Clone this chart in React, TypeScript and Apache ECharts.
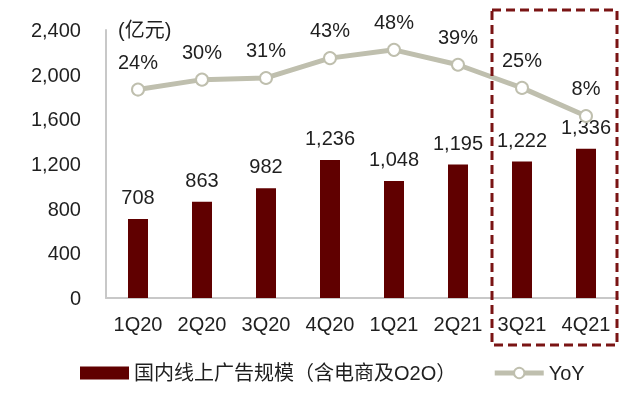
import React, { useEffect, useRef } from "react";
import * as echarts from "echarts";

const categories = ["1Q20", "2Q20", "3Q20", "4Q20", "1Q21", "2Q21", "3Q21", "4Q21"];
const adRevenue = [708, 863, 982, 1236, 1048, 1195, 1222, 1336];
const yoy = [24, 30, 31, 43, 48, 39, 25, 8];
const yTicks = [0, 400, 800, 1200, 1600, 2000, 2400];
const barName = "国内线上广告规模（含电商及O2O）";
const lineName = "YoY";
const unitLabel = "(亿元)";

const FONT = "'Liberation Sans', Arial, 'Noto Sans CJK SC', sans-serif";
const BAR_COLOR = "#600000";
const LINE_COLOR = "#BFBFAE";
const TEXT_COLOR = "#1f1f1f";
const FS = 20;

export default function App() {
  const ref = useRef<HTMLDivElement>(null);
  useEffect(() => {
    if (!ref.current) return;
    const chart = echarts.init(ref.current, undefined, { renderer: "svg" });
    chart.setOption({
      animation: false,
      textStyle: { fontFamily: FONT },
      grid: { left: 106, right: 22, top: 30, bottom: 99, containLabel: false },
      xAxis: {
        type: "category",
        data: categories,
        axisLine: { lineStyle: { color: "#C8C8C8", width: 2 } },
        axisTick: { show: false },
        axisLabel: { color: TEXT_COLOR, fontSize: FS, margin: 16, fontFamily: FONT },
      },
      yAxis: [
        {
          type: "value",
          min: yTicks[0],
          max: yTicks[yTicks.length - 1],
          interval: 400,
          axisLine: { show: true, lineStyle: { color: "#C8C8C8", width: 2 } },
          axisTick: { show: false },
          splitLine: { show: false },
          axisLabel: {
            color: TEXT_COLOR,
            fontSize: FS,
            margin: 25,
            fontFamily: FONT,
            formatter: (v: number) => v.toLocaleString("en-US"),
          },
        },
        {
          type: "value",
          min: -102,
          max: 60,
          show: false,
          splitLine: { show: false },
        },
      ],
      legend: {
        left: 75,
        top: 358,
        itemWidth: 49,
        itemHeight: 13,
        itemGap: 36,
        textStyle: { color: TEXT_COLOR, fontSize: FS, fontFamily: FONT },
        data: [
          { name: barName, icon: "rect" },
          { name: lineName, lineStyle: { width: 5 } },
        ],
      },
      series: [
        {
          name: barName,
          type: "bar",
          data: adRevenue,
          barWidth: 20,
          itemStyle: { color: BAR_COLOR },
          label: {
            show: true,
            position: "top",
            distance: 12,
            color: TEXT_COLOR,
            fontSize: FS,
            fontFamily: FONT,
            formatter: (p: any) => Number(p.value).toLocaleString("en-US"),
          },
        },
        {
          name: lineName,
          type: "line",
          yAxisIndex: 1,
          data: yoy,
          symbol: "emptyCircle",
          symbolSize: 12,
          lineStyle: { color: LINE_COLOR, width: 5 },
          itemStyle: { color: LINE_COLOR, borderWidth: 2, borderColor: LINE_COLOR },
          label: {
            show: true,
            position: "top",
            distance: 11,
            color: TEXT_COLOR,
            fontSize: FS,
            fontFamily: FONT,
            formatter: "{c}%",
          },
          z: 3,
        },
      ],
      graphic: [
        {
          type: "text",
          left: 118,
          top: 20,
          style: { text: unitLabel, fill: TEXT_COLOR, font: `${FS}px ${FONT}` },
        },
        {
          type: "rect",
          shape: { x: 492, y: 10, width: 125, height: 335 },
          style: { fill: "none", stroke: "#7A1414", lineWidth: 3, lineDash: [9, 5] },
          z: 10,
        },
      ],
    });
    return () => chart.dispose();
  }, []);
  return (
    <div
      ref={ref}
      style={{ position: "fixed", left: 0, top: 0, width: 640, height: 397 }}
    />
  );
}
